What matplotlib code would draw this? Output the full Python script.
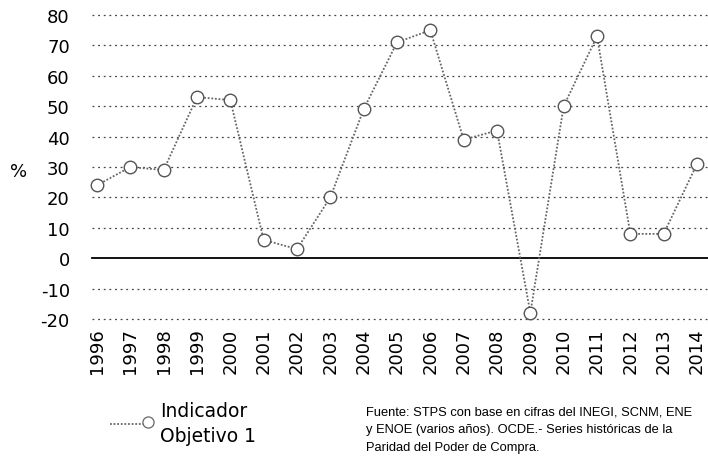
import matplotlib
matplotlib.use("Agg")
import matplotlib.pyplot as plt
from matplotlib.lines import Line2D

plt.rcParams["axes.unicode_minus"] = False

years = list(range(1996, 2015))
values = [24, 30, 29, 53, 52, 6, 3, 20, 49, 71, 75, 39, 42, -18, 50, 73, 8, 8, 31]
yticks = [-20, -10, 0, 10, 20, 30, 40, 50, 60, 70, 80]
series_name = "Indicador\nObjetivo 1"
source = ("Fuente: STPS con base en cifras del INEGI, SCNM, ENE\n"
          "y ENOE (varios años). OCDE.- Series históricas de la\n"
          "Paridad del Poder de Compra.")

fig = plt.figure(figsize=(7.08, 4.6), dpi=100)
ax = fig.add_axes([92/708, 1 - 320/460, 1 - 92/708, (320 - 16)/460])

for y in yticks:
    if y == 0:
        ax.axhline(y, color="black", lw=1.3, zorder=1, clip_on=False)
    else:
        ax.axhline(y, color="#444444", lw=0.9, ls=(0, (1.5, 3)), zorder=1, clip_on=False)

ax.plot(years, values, color="#666666", lw=1.3, ls=(0, (1, 1)),
        marker="o", ms=9, mfc="white", mec="#555555", mew=1.0, zorder=3, clip_on=False)

ax.set_xlim(1995.85, 2014.33)
ax.set_ylim(-20, 80)
ax.set_yticks(yticks)
ax.set_xticks(years)
ax.set_xticklabels([str(y) for y in years], rotation=90, fontsize=13)
ax.tick_params(axis="y", labelsize=13, length=0, pad=16)
ax.tick_params(axis="x", length=0, pad=6)
for s in ax.spines.values():
    s.set_visible(False)

fig.text(10/708, 1 - 172/460, "%", fontsize=13, ha="left", va="center")

# legend
leg = Line2D([110/708, 148/708], [1 - 425/460, 1 - 425/460], transform=fig.transFigure,
             color="#666666", lw=1.3, ls=(0, (1, 1)))
fig.add_artist(leg)
mk = Line2D([148/708], [1 - 423/460], transform=fig.transFigure, marker="o", ms=8,
            mfc="white", mec="#666666", mew=0.9, ls="none")
fig.add_artist(mk)
fig.text(160/708, 1 - 424/460, series_name, fontsize=13.5, ha="left", va="center",
         linespacing=1.4)

fig.text(366/708, 1 - 430/460, source, fontsize=9.3, ha="left", va="center",
         linespacing=1.65, family=["Liberation Sans", "DejaVu Sans"])

fig.savefig("out.png", dpi=100)
